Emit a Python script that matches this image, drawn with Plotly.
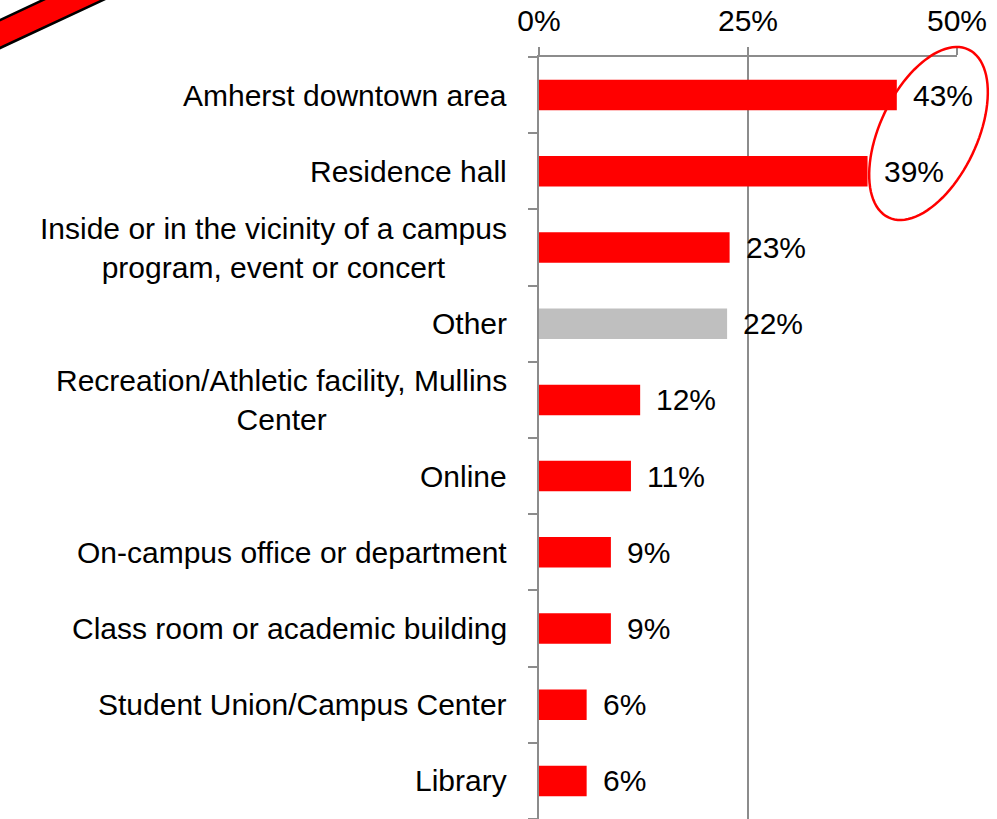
import numpy as np
import plotly.graph_objects as go

# ---- data ----
categories = [
    "Amherst downtown area",
    "Residence hall",
    "Inside or in the vicinity of a campus<br>program, event or concert",
    "Other",
    "Recreation/Athletic facility, Mullins<br>Center",
    "Online",
    "On-campus office or department",
    "Class room or academic building",
    "Student Union/Campus Center",
    "Library",
]
values = [42.8, 39.3, 22.8, 22.5, 12.1, 11.0, 8.6, 8.6, 5.7, 5.7]
value_labels = ["43%", "39%", "23%", "22%", "12%", "11%", "9%", "9%", "6%", "6%"]
x_tickvals = [0, 25, 50]
x_ticktext = ["0%", "25%", "50%"]

# ---- styling ----
W, H = 997, 819
ML, MR, MT, MB = 539, 40, 57, 0
FONT = "Liberation Sans, Arial, sans-serif"
FS = 30
RED = "#FF0000"
GREY_BAR = "#BFBFBF"
AXIS = "#8C8C8C"

colors = [GREY_BAR if c == "Other" else RED for c in categories]
ypos = list(range(len(categories)))

fig = go.Figure()
fig.add_trace(go.Bar(
    x=values, y=ypos, orientation="h",
    marker=dict(color=colors, line=dict(width=0)),
    width=0.4, hoverinfo="skip", showlegend=False,
))

annotations = []
for i, (c, v, t) in enumerate(zip(categories, values, value_labels)):
    annotations.append(dict(
        x=0, xref="paper", y=i, yref="y", text=c, showarrow=False,
        xanchor="right", yanchor="middle", xshift=-30, align="center",
        font=dict(family=FONT, size=FS, color="black"),
    ))
    annotations.append(dict(
        x=v, xref="x", y=i, yref="y", text=t, showarrow=False,
        xanchor="left", yanchor="middle", xshift=14,
        font=dict(family=FONT, size=FS, color="black"),
    ))

pw, ph = W - ML - MR, H - MT - MB


def px2paper(px, py):
    return (px - ML) / pw, (H - MB - py) / ph


# ellipse highlight (decoration)
cx, cy, a, b, th = 928.5, 133.5, 93.0, 48.5, np.radians(25.5)
u = np.array([np.sin(th), -np.cos(th)])
v = np.array([np.cos(th), np.sin(th)])
pts = []
for t in np.linspace(0, 2 * np.pi, 97):
    p = np.array([cx, cy]) + a * np.cos(t) * u + b * np.sin(t) * v
    pts.append(px2paper(p[0], p[1]))
ell_path = "M " + " L ".join(f"{x:.5f},{y:.5f}" for x, y in pts) + " Z"

# red arrow band at top-left (decoration)
arrow_px = [(-6, 22.8), (50, -3.3), (112, -4.2), (-6, 50.8)]
arr = [px2paper(x, y) for x, y in arrow_px]
arr_path = "M " + " L ".join(f"{x:.5f},{y:.5f}" for x, y in arr) + " Z"

shapes = [
    dict(type="path", xref="paper", yref="paper", path=arr_path,
         fillcolor=RED, line=dict(color="black", width=2.5), layer="above"),
    dict(type="path", xref="paper", yref="paper", path=ell_path,
         line=dict(color=RED, width=2.5), layer="above"),
]

fig.update_layout(
    width=W, height=H,
    margin=dict(l=ML, r=MR, t=MT, b=MB, pad=0),
    paper_bgcolor="white", plot_bgcolor="white",
    font=dict(family=FONT, size=FS, color="black"),
    bargap=0.6,
    annotations=annotations,
    shapes=shapes,
    xaxis=dict(
        side="top", range=[0, 50], tickvals=x_tickvals, ticktext=x_ticktext,
        showgrid=True, gridcolor=AXIS, gridwidth=1.5,
        ticks="outside", ticklen=8, tickcolor=AXIS, tickwidth=1.5,
        showline=True, linecolor=AXIS, linewidth=1.5,
        zeroline=False, tickfont=dict(family=FONT, size=FS, color="black"),
        ticklabelstandoff=4, fixedrange=True,
    ),
    yaxis=dict(
        range=[len(categories) - 0.5, -0.5],
        tickvals=[i - 0.5 for i in range(len(categories) + 1)],
        showticklabels=False,
        ticks="outside", ticklen=9, tickcolor=AXIS, tickwidth=1.5,
        showline=True, linecolor=AXIS, linewidth=1.5,
        showgrid=False, zeroline=False, fixedrange=True,
    ),
)

fig.write_html(
    "out.html",
    config={"displayModeBar": False},
    post_script="document.body.style.margin='0px';document.body.style.overflow='hidden';",
)
